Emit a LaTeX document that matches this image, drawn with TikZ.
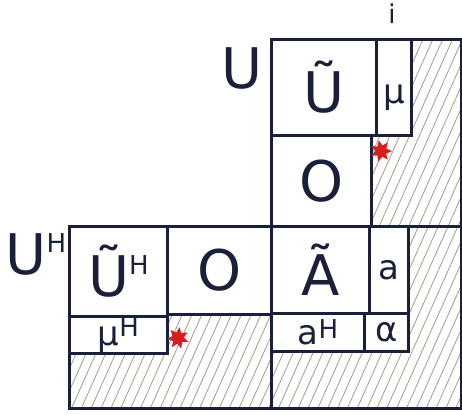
\documentclass[tikz,border=0pt]{standalone}
\usepackage{fontspec}
\setmainfont{DejaVu Sans}
\usetikzlibrary{patterns.meta,shapes.geometric}
\definecolor{ink}{HTML}{1A1F3A}
\definecolor{hatchc}{HTML}{A39B88}
\definecolor{redstar}{HTML}{D42020}
\newcommand{\supH}[1]{\raisebox{#1}{\fontsize{26}{30}\selectfont H}}
\begin{document}
\begin{tikzpicture}[x=1pt,y=-1pt,
  lw/.style={line width=2.8pt,draw=ink,line join=miter},
  cell/.style={lw,rectangle,inner sep=0pt,anchor=north west,text=ink},
  hatchfill/.style={pattern={Lines[angle=66,distance=9pt,line width=0.8pt]},pattern color=hatchc},
  big/.style={font=\fontsize{56}{64}\selectfont},
  mid/.style={font=\fontsize{34}{40}\selectfont},
  lab/.style={text=ink,inner sep=0pt},
  redmark/.style={star,star points=7,star point ratio=1.9,fill=redstar,inner sep=0pt,minimum size=22pt}]
\useasboundingbox (0,0) rectangle (462,414);
% hatched region
\fill[hatchfill] (410,38) -- (460,38) -- (460,407) -- (68,407) -- (68,352) -- (166,352) -- (166,313)
  -- (270,313) -- (270,350) -- (407,350) -- (407,225) -- (370,225) -- (370,134) -- (410,134) -- cycle;
% outer frames
\node[cell,minimum width=190pt,minimum height=369pt] (Umat) at (270,38) {};
\node[cell,minimum width=392pt,minimum height=182pt] (UHmat) at (68,225) {};
% top matrix cells
\node[cell,minimum width=105pt,minimum height=96pt,big] (Ut) at (270,38) {Ũ};
\node[cell,minimum width=35pt,minimum height=96pt] (mu) at (375,38) {};
\node[lab,mid] (mulab) at ([yshift=-10pt]mu.center) {μ};
\node[cell,minimum width=100pt,minimum height=91pt,big] (O1) at (270,134) {O};
% bottom matrix cells
\node[cell,minimum width=98pt,minimum height=90pt,big] (UHt) at (68,225) {Ũ\supH{22pt}};
\node[cell,minimum width=98pt,minimum height=37pt,mid] (muH) at (68,315) {μ\supH{9pt}};
\node[cell,minimum width=104pt,minimum height=88pt,big] (O2) at (166,225) {O};
\node[cell,minimum width=98pt,minimum height=87pt,big] (At) at (270,225) {Ã};
\node[cell,minimum width=39pt,minimum height=87pt,mid] (a) at (368,225) {a};
\node[cell,minimum width=93pt,minimum height=38pt,mid] (aH) at (270,312) {a\supH{6pt}};
\node[cell,minimum width=44pt,minimum height=38pt,mid] (al) at (363,312) {α};
% outer labels
\node[lab,big] (Ulab) at (242,68) {U};
\node[lab,big] (UHlab) at (36,254) {U\supH{22pt}};
\node[lab,font=\fontsize{26}{30}\selectfont] (ilab) at (392,14) {i};
% red marks
\node[redmark,rotate=12] (s1) at (381,151) {};
\node[redmark,rotate=-8] (s2) at (178,338) {};
\end{tikzpicture}
\end{document}
